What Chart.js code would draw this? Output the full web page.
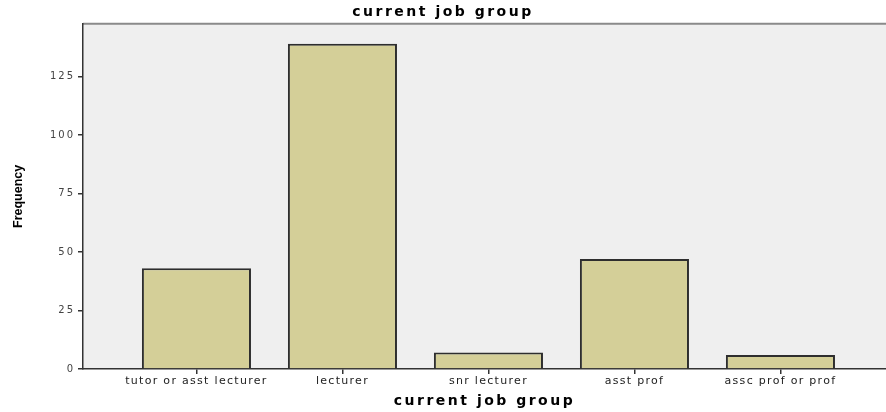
<!DOCTYPE html>
<html>
<head>
<meta charset="utf-8">
<script src="https://cdn.jsdelivr.net/npm/chart.js@4.4.0/dist/chart.umd.min.js"></script>
<style>
  html, body { margin: 0; padding: 0; background: #fff; }
  #wrap { width: 886px; height: 412px; }
</style>
</head>
<body>
<div id="wrap"><canvas id="jobCanvas"></canvas></div>
<script>
// current job group - frequencies
const groupLabels = ["tutor or asst lecturer", "lecturer", "snr lecturer", "asst prof", "assc prof or prof"];
const frequencies = [43, 139, 7, 47, 6];
const yTicks = [0, 25, 50, 75, 100, 125];

const jobCanvas = document.getElementById("jobCanvas");

// grey plot background + top frame line
const plotBackground = {
    id: "plotBackground",
    beforeDraw(chart) {
        const { ctx, chartArea } = chart;
        ctx.save();
        ctx.fillStyle = "#efefef";
        ctx.fillRect(chartArea.left, chartArea.top, chartArea.right - chartArea.left, chartArea.bottom - chartArea.top);
        ctx.strokeStyle = "#8a8a8a";
        ctx.lineWidth = 2;
        ctx.beginPath();
        ctx.moveTo(chartArea.left, chartArea.top);
        ctx.lineTo(chartArea.right, chartArea.top);
        ctx.stroke();
        ctx.restore();
    }
};

const jobChart = new Chart(jobCanvas, {
    type: "bar",
    data: {
        datasets: [
            {
                label: "Frequency",
                data: frequencies.map((v, i) => ({ x: i, y: v })),
                backgroundColor: "#d4cf98",
                borderColor: "#2e2e2e",
                borderWidth: 2,
                barPercentage: 0.747,
                categoryPercentage: 1
            }
        ]
    },
    options: {
        responsive: true,
        maintainAspectRatio: false,
        animation: false,
        layout: { padding: 0 },
        plugins: {
            legend: { display: false },
            tooltip: { enabled: false },
            title: {
                display: true,
                text: "current job group",
                color: "#000",
                font: { family: "DejaVu Sans", size: 14, weight: "bold" },
                padding: { top: 4, bottom: 3 }
            }
        },
        scales: {
            x: {
                type: "linear",
                offset: false,
                min: -0.777,
                max: 4.723,
                afterBuildTicks: (scale) => { scale.ticks = groupLabels.map((l, i) => ({ value: i })); },
                afterFit: (scale) => { scale.height = 43; },
                ticks: {
                    callback: (v) => groupLabels[v],
                    color: "#222",
                    font: { family: "DejaVu Sans", size: 11 },
                    padding: 1,
                    maxRotation: 0,
                    autoSkip: false
                },
                grid: { offset: false, drawOnChartArea: false, drawTicks: true, tickLength: 5, color: "#333", lineWidth: 1.5 },
                border: { display: true, color: "#333", width: 1.5 },
                title: {
                    display: true,
                    text: "current job group",
                    color: "#000",
                    font: { family: "DejaVu Sans", size: 14, weight: "bold" },
                    padding: { top: 3, bottom: 2 }
                }
            },
            y: {
                min: 0,
                max: 147.5,
                afterBuildTicks: (scale) => { scale.ticks = yTicks.map(v => ({ value: v })); },
                afterFit: (scale) => { scale.width = 83; },
                ticks: {
                    color: "#444",
                    font: { family: "DejaVu Sans", size: 10 },
                    padding: 3
                },
                grid: { drawOnChartArea: false, drawTicks: true, tickLength: 5, color: "#333", lineWidth: 1.5 },
                border: { display: true, color: "#333", width: 1.5 },
                title: {
                    display: true,
                    text: "Frequency",
                    color: "#000",
                    font: { family: "Liberation Sans", size: 12.5, weight: "bold" },
                    padding: { top: 11, bottom: 0 }
                }
            }
        }
    },
    plugins: [plotBackground]
});

// the original text is stretched wide, so add a little letter spacing per text element
function withSpacing(obj, method, spacing) {
    const orig = obj[method];
    obj[method] = function (...args) {
        const prev = this.ctx.letterSpacing;
        this.ctx.letterSpacing = spacing;
        orig.apply(this, args);
        this.ctx.letterSpacing = prev;
    };
}
withSpacing(jobChart.titleBlock, "draw", "2.5px");
withSpacing(jobChart.scales.x, "drawTitle", "2.5px");
withSpacing(jobChart.scales.x, "drawLabels", "1.3px");
withSpacing(jobChart.scales.y, "drawLabels", "2px");
jobChart.draw();
</script>
</body>
</html>
